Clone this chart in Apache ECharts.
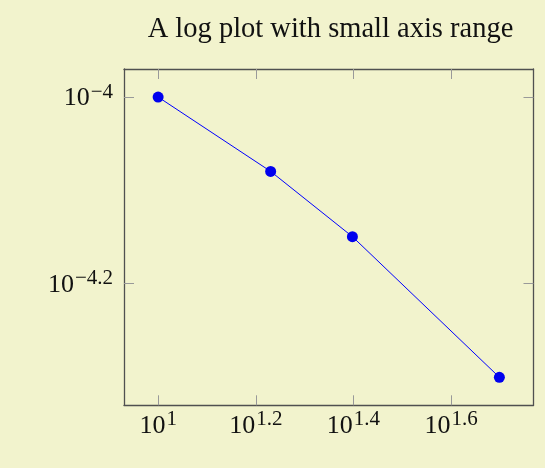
<!DOCTYPE html>
<html>
<head>
<meta charset="utf-8">
<script src="https://cdn.jsdelivr.net/npm/echarts@6/dist/echarts.min.js"></script>
<style>
html,body{margin:0;padding:0;background:#f2f3cd;}
#chart{width:545px;height:468px;}
</style>
</head>
<body>
<div id="chart"></div>
<script>
// Data (log-log plot)
var xValues = [10, 17, 25, 50];
var yValues = [1.0e-4, 8.32e-5, 7.08e-5, 5.0e-5];
// Tick positions (exponents of 10)
var xTickExponents = [1, 1.2, 1.4, 1.6];
var yTickExponents = [-4.2, -4];
var titleText = 'A log plot with small axis range';

function logRange(vals) {
  var lo = Math.log10(Math.min.apply(null, vals));
  var hi = Math.log10(Math.max.apply(null, vals));
  var pad = (hi - lo) * 0.1;
  return [Math.pow(10, lo - pad), Math.pow(10, hi + pad)];
}
var xr = logRange(xValues), yr = logRange(yValues);
var xTicks = xTickExponents.map(function (e) { return Math.pow(10, e); });
var yTicks = yTickExponents.map(function (e) { return Math.pow(10, e); });

function fmt(v) {
  var e = Math.round(Math.log10(v) * 10) / 10;
  var s = String(e).replace('-', '\u2212');
  return '{b|10}{s|' + s + '}';
}
var FONT = '"Liberation Serif", "Times New Roman", serif';
var rich = {
  b: { fontFamily: FONT, fontSize: 26, lineHeight: 34, color: '#111', verticalAlign: 'middle' },
  s: { fontFamily: FONT, fontSize: 21, lineHeight: 20, color: '#111', verticalAlign: 'top', padding: [0, 0, 0, 1] }
};
var lineStyle = { color: '#505050', width: 1.3 };
var tickStyle = { color: '#999', width: 1 };

var chart = echarts.init(document.getElementById('chart'));
chart.setOption({
  backgroundColor: '#f2f3cd',
  animation: false,
  title: {
    text: titleText,
    left: 325.5, top: 10, textAlign: 'center',
    textStyle: { fontFamily: FONT, fontSize: 28.5, fontWeight: 'normal', color: '#111' }
  },
  grid: { left: 124, top: 69, width: 409.5, height: 336.3, containLabel: false },
  xAxis: [{
    type: 'log', logBase: 10, position: 'bottom', min: xr[0], max: xr[1],
    axisLine: { show: true, lineStyle: lineStyle },
    axisTick: { show: true, inside: true, length: 10, lineStyle: tickStyle, customValues: xTicks },
    axisLabel: { show: true, margin: 4, formatter: fmt, rich: rich, customValues: xTicks },
    splitLine: { show: false }, minorTick: { show: false }
  }, {
    type: 'log', logBase: 10, position: 'top', min: xr[0], max: xr[1],
    axisLine: { show: true, lineStyle: lineStyle },
    axisTick: { show: true, inside: true, length: 10, lineStyle: tickStyle, customValues: xTicks },
    axisLabel: { show: false },
    splitLine: { show: false }
  }],
  yAxis: [{
    type: 'log', logBase: 10, position: 'left', min: yr[0], max: yr[1],
    axisLine: { show: true, lineStyle: lineStyle },
    axisTick: { show: true, inside: true, length: 10, lineStyle: tickStyle, customValues: yTicks },
    axisLabel: { show: true, margin: 11, padding: [3, 0, 0, 0], formatter: fmt, rich: rich, customValues: yTicks },
    splitLine: { show: false }, minorTick: { show: false }
  }, {
    type: 'log', logBase: 10, position: 'right', min: yr[0], max: yr[1],
    axisLine: { show: true, lineStyle: lineStyle },
    axisTick: { show: true, inside: true, length: 10, lineStyle: tickStyle, customValues: yTicks },
    axisLabel: { show: false },
    splitLine: { show: false }
  }],
  series: [{
    type: 'line',
    xAxisIndex: 0, yAxisIndex: 0,
    data: xValues.map(function (x, i) { return [x, yValues[i]]; }),
    symbol: 'circle', symbolSize: 11,
    lineStyle: { color: '#0000ff', width: 1 },
    itemStyle: { color: '#0000ee' }
  }]
});
</script>
</body>
</html>
